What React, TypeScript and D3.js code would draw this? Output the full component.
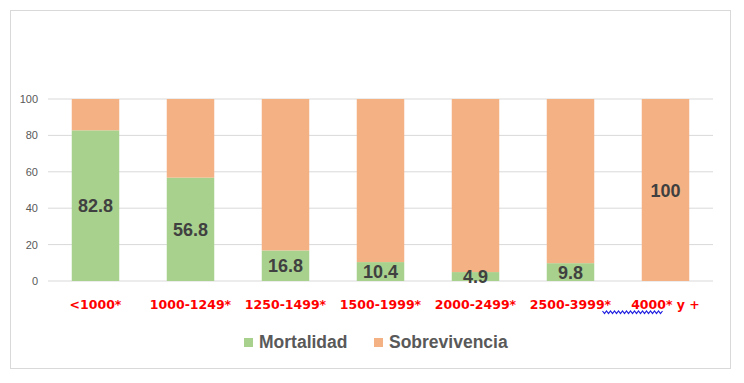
import React from "react";
import * as d3 from "d3";

const categories = ["<1000*", "1000-1249*", "1250-1499*", "1500-1999*", "2000-2499*", "2500-3999*", "4000* y +"];
const mortalidad = [82.8, 56.8, 16.8, 10.4, 4.9, 9.8, 0];
const sobrevivencia = [17.2, 43.2, 83.2, 89.6, 95.1, 90.2, 100];
const mortalidadLabels = ["82.8", "56.8", "16.8", "10.4", "4.9", "9.8", ""];
const sobrevivenciaLabels = ["", "", "", "", "", "", "100"];
const yTicks = [0, 20, 40, 60, 80, 100];
const seriesNames = ["Mortalidad", "Sobrevivencia"];

const W = 744;
const H = 383;
const GREEN = "#A9D18E";
const ORANGE = "#F4B183";

export default function App() {
  const x = d3.scaleBand<string>().domain(categories).range([48, 713]).paddingInner(0.5).paddingOuter(0.25);
  const y = d3.scaleLinear().domain([0, 100]).range([281, 99]);

  const rows = categories.map((c, i) => ({ cat: c, Mortalidad: mortalidad[i], Sobrevivencia: sobrevivencia[i] }));
  const stack = d3.stack<any>().keys(seriesNames)(rows);
  const colors = [GREEN, ORANGE];
  const labelSets = [mortalidadLabels, sobrevivenciaLabels];

  // wavy spell-check underline under last label
  const lastCx = (x(categories[6]) as number) + x.bandwidth() / 2;
  const wx0 = lastCx - 63;
  const wx1 = lastCx - 3;
  const wavePts: [number, number][] = [];
  for (let px = wx0, k = 0; px <= wx1; px += 2, k++) wavePts.push([px, k % 2 === 0 ? 311 : 313.5]);
  const wave = d3.line()(wavePts) || "";

  return (
    <svg width={W} height={H} style={{ position: "absolute", left: 0, top: 0 }}>
      <rect x={0} y={0} width={W} height={H} fill="#fff" />
      <rect x={10.5} y={10.5} width={720} height={358} fill="#fff" stroke="#D9D9D9" strokeWidth={1} />
      {yTicks.map((t) => (
        <g key={t}>
          <line x1={48} x2={713} y1={y(t)} y2={y(t)} stroke="#D9D9D9" strokeWidth={1} />
          <text x={38} y={y(t) + 4} textAnchor="end" fontFamily="Liberation Sans, Arial, sans-serif" fontSize={11} fill="#595959">
            {t}
          </text>
        </g>
      ))}
      {stack.map((s, si) => (
        <g key={si}>
          {s.map((d, i) =>
            d[1] - d[0] > 0 ? (
              <rect
                key={i}
                x={x(categories[i])}
                width={x.bandwidth()}
                y={y(d[1])}
                height={y(d[0]) - y(d[1])}
                fill={colors[si]}
              />
            ) : null
          )}
        </g>
      ))}
      {stack.map((s, si) =>
        s.map((d, i) =>
          labelSets[si][i] ? (
            <text
              key={si + "-" + i}
              x={(x(categories[i]) as number) + x.bandwidth() / 2}
              y={Math.min((y(d[0]) + y(d[1])) / 2 + 6.5, 286)}
              textAnchor="middle"
              fontFamily="Liberation Sans, Arial, sans-serif"
              fontWeight="bold"
              fontSize={18}
              fill="#404040"
            >
              {labelSets[si][i]}
            </text>
          ) : null
        )
      )}
      {categories.map((c) => (
        <text
          key={c}
          x={(x(c) as number) + x.bandwidth() / 2}
          y={309}
          textAnchor="middle"
          fontFamily="DejaVu Sans, sans-serif"
          fontWeight="bold"
          fontSize={12.5}
          fill="#FF0000"
        >
          {c}
        </text>
      ))}
      <path d={wave} fill="none" stroke="#2020E0" strokeWidth={1.2} />
      <g fontFamily="Liberation Sans, Arial, sans-serif" fontWeight="bold" fontSize={17.5} fill="#595959">
        <rect x={244} y={338} width={9} height={9} fill={GREEN} />
        <text x={259} y={348}>{seriesNames[0]}</text>
        <rect x={374} y={338} width={9} height={9} fill={ORANGE} />
        <text x={389} y={348}>{seriesNames[1]}</text>
      </g>
    </svg>
  );
}
